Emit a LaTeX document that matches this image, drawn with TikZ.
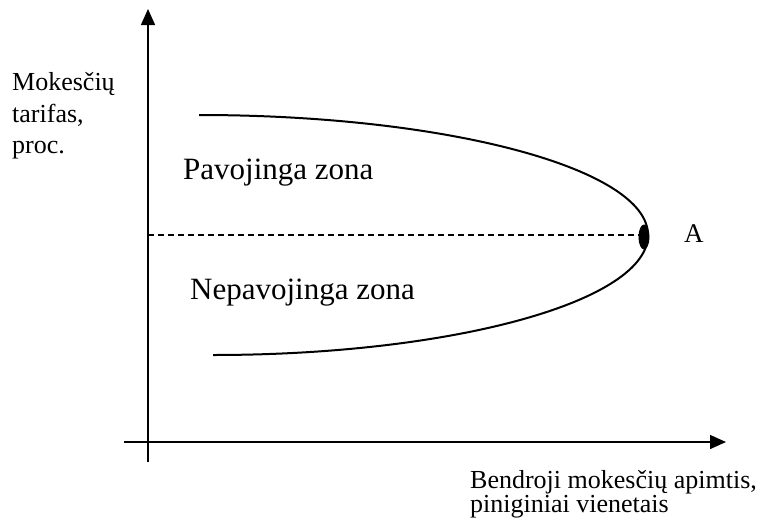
\documentclass[tikz,border=0pt]{standalone}
\usepackage{fontspec}
\setmainfont{Liberation Serif}
\usetikzlibrary{arrows.meta}
\begin{document}
\begin{tikzpicture}[x=1pt,y=-1pt,
  axis/.style={line width=1.5pt,-{Triangle[width=14pt,length=16pt]}},
  curve/.style={line width=2pt},
  lbl/.style={anchor=base west,inner sep=0pt,font=\fontsize{26}{30}\selectfont},
  zone/.style={anchor=base west,inner sep=0pt,font=\fontsize{31}{36}\selectfont}]
\useasboundingbox (0,0) rectangle (761,528);
\coordinate (ybot) at (148,462);
\coordinate (ytop) at (148,9);
\coordinate (xleft) at (124,442);
\coordinate (xright) at (726,442);
\draw[axis] (ybot) -- (ytop);
\draw[axis] (xleft) -- (xright);
\coordinate (top) at (199,115);
\draw[curve] (top) arc[start angle=-90,end angle=0,x radius=449,y radius=120]
  arc[start angle=0,end angle=90,x radius=435,y radius=120];
\coordinate (dstart) at (148,235);
\coordinate (dend) at (640,235);
\draw[line width=1.2pt,dash pattern=on 6pt off 4pt] (dstart) -- (dend);
\fill (644,237) ellipse[x radius=5.5,y radius=12.5];
\node[lbl] (ylab1) at (12,90) {Mokesčių};
\node[lbl] (ylab2) at (12,122) {tarifas,};
\node[lbl] (ylab3) at (12,153) {proc.};
\node[lbl] (xlab1) at (470,488) {Bendroji mokesčių apimtis,};
\node[lbl] (xlab2) at (470,512) {piniginiai vienetais};
\node[zone] (pav) at (183,179) {Pavojinga zona};
\node[zone] (nepav) at (190,299) {Nepavojinga zona};
\node[zone,font=\fontsize{27}{30}\selectfont] (A) at (684,242) {A};
\end{tikzpicture}
\end{document}
